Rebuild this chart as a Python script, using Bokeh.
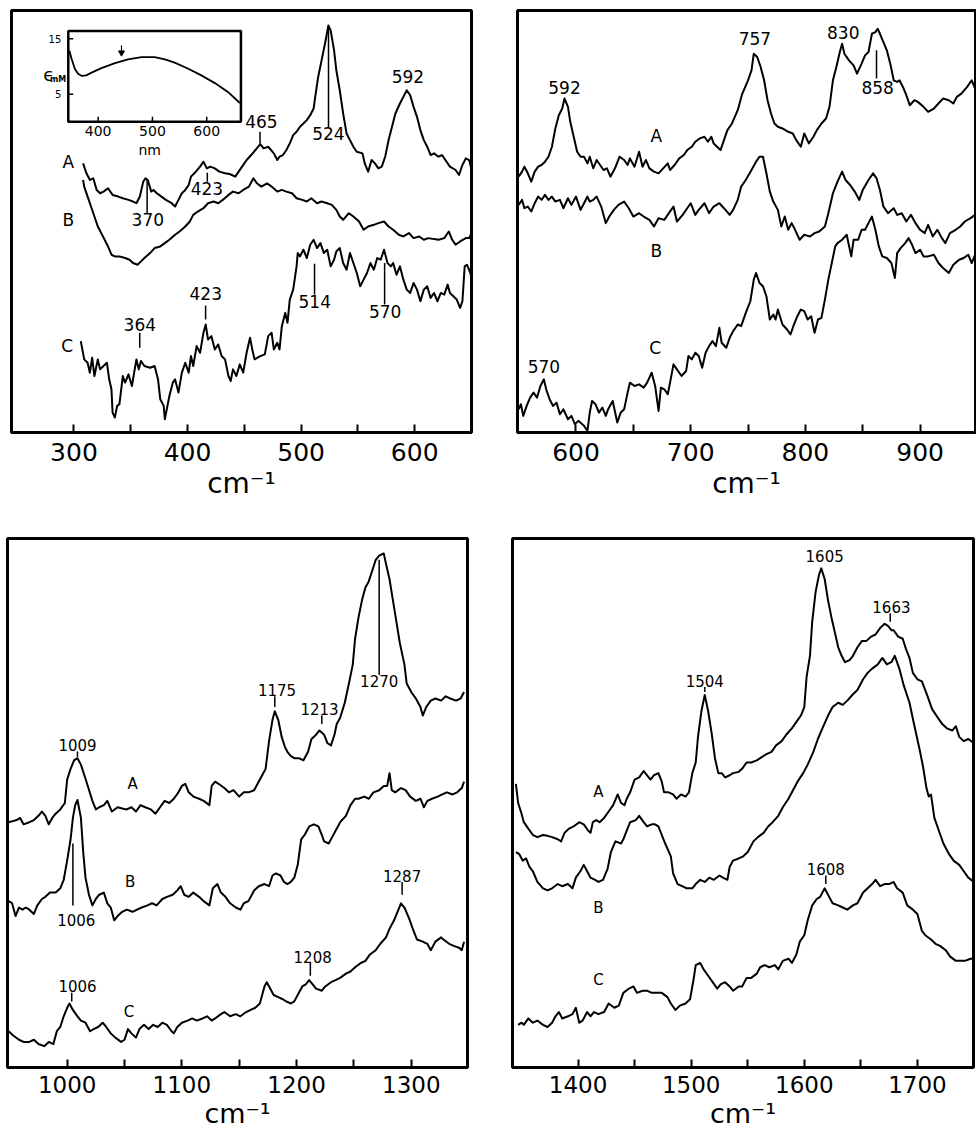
from bokeh.plotting import figure
from bokeh.layouts import column, row
from bokeh.models import Range1d, FixedTicker
from bokeh.core.properties import value
from bokeh.embed import file_html
from bokeh.resources import INLINE

FONT = "DejaVu Sans"

# ---------------- Panel 1: 300-650 cm-1 (intensity in arbitrary units) ----------------
tl_a = [(308,810),(311,780),(314,760),(317,765),(320,730),(323,720),(326,725),(330,735),(334,715),(339,710),
        (343,705),(348,700),(352,695),(355,690),(358,710),(361,755),(363,765),(365,760),(368,725),(370,730),
        (373,720),(377,710),(381,700),(386,690),(389,680),(392,700),(395,720),(398,730),(401,745),(403,770),
        (406,780),(411,800),(414,815),(417,795),(420,800),(424,795),(428,785),(433,780),(437,778),(442,770),
        (445,785),(448,800),(452,820),(456,835),(461,855),(464,868),(467,855),(471,860),(476,840),(479,820),
        (481,830),(484,835),(487,850),(490,870),(493,895),(496,905),(499,920),(502,930),(505,940),(508,955),
        (511,975),(512,1000),(515,1070),(518,1120),(521,1170),(524,1225),(526,1210),(529,1150),(531,1090),(534,1030),
        (537,960),(540,900),(543,880),(546,860),(549,845),(554,840),(556,810),(559,785),(562,820),(565,810),
        (568,795),(571,800),(574,830),(577,880),(580,920),(583,960),(587,990),(590,1010),(593,1030),(596,1015),
        (599,980),(602,950),(605,910),(608,880),(611,860),(614,835),(617,840),(621,830),(624,835),(627,820),
        (631,800),(636,790),(639,775),(642,805),(645,825),(648,820),(650,790)]
tl_b = [(308,760),(309,740),(312,710),(315,680),(318,650),(321,620),(324,600),(327,580),(330,560),(333,535),
        (336,530),(340,530),(345,525),(349,520),(352,510),(356,505),(359,515),(362,525),(367,540),(371,555),
        (376,560),(380,570),(384,580),(389,595),(393,605),(398,620),(402,635),(405,655),(409,665),(414,675),
        (418,690),(423,695),(427,690),(431,700),(436,715),(440,725),(445,720),(449,730),(454,740),(458,765),
        (461,750),(465,740),(470,750),(474,740),(479,725),(483,730),(487,725),(492,720),(496,705),(501,700),
        (505,695),(509,705),(514,690),(518,695),(523,690),(527,685),(531,670),(534,650),(537,640),(542,660),
        (546,650),(551,635),(555,610),(559,620),(564,625),(568,630),(573,635),(577,620),(581,610),(586,595),
        (590,590),(595,600),(599,585),(604,590),(608,580),(612,585),(617,582),(621,580),(626,585),(630,605),
        (633,580),(636,565),(640,575),(645,585),(648,585),(650,600)]
tl_c = [(306,275),(309,220),(312,210),(314,180),(316,225),(318,170),(321,220),(323,190),(326,200),(329,210),
        (331,160),(333,130),(334,60),(336,45),(338,80),(340,85),(343,170),(345,150),(348,175),(351,140),
        (353,180),(355,220),(357,190),(359,215),(362,200),(367,195),(371,200),(374,160),(376,100),(379,80),
        (380,40),(382,75),(384,110),(387,150),(389,160),(392,120),(395,180),(398,210),(401,180),(403,230),
        (405,200),(408,260),(411,240),(414,300),(416,325),(418,280),(421,290),(424,250),(427,265),(430,230),
        (433,220),(436,170),(438,155),(440,190),(443,170),(446,205),(449,180),(452,240),(455,285),(457,250),
        (459,220),(464,230),(468,235),(471,290),(474,300),(476,250),(479,270),(481,250),(483,320),(486,360),
        (488,330),(490,400),(493,430),(496,500),(497,540),(499,530),(502,550),(505,525),(508,565),(511,580),
        (514,555),(517,570),(520,540),(523,550),(526,500),(529,520),(531,545),(534,555),(537,510),(540,490),
        (543,540),(546,510),(549,480),(552,440),(555,460),(558,480),(561,510),(564,490),(567,525),(570,520),
        (573,550),(576,510),(579,500),(581,510),(584,475),(587,500),(590,460),(593,430),(596,420),(599,450),
        (602,430),(605,395),(608,430),(611,440),(614,405),(617,420),(620,395),(623,420),(626,415),(629,445),
        (631,420),(634,410),(637,400),(640,375),(642,395),(644,500),(646,505),(649,480),(650,465)]
tl_ticks_major = [300, 400, 500, 600]
tl_ticks_minor = [350, 450, 550]
tl_labels = [("A", 295, 815), ("B", 295, 640), ("C", 294, 260), ("370", 365, 640), ("423", 417, 735),
             ("465", 465, 935), ("524", 524, 900), ("592", 594, 1070), ("364", 358, 325),
             ("423", 416, 418), ("514", 512, 395), ("570", 574, 365)]
tl_marks = [(364.4, 658, 760), (417.4, 755, 782), (463.8, 870, 905), (524.1, 918, 1215),
            (357.9, 255, 300), (415.9, 340, 382), (511.8, 415, 508), (573.5, 385, 510)]

# inset: absorption spectrum (nm, epsilon mM)
inset_curve = [(347,12.9),(351,11.4),(357,9.6),(363,8.7),(370,8.3),(378,8.4),(388,8.9),(406,9.7),(431,10.6),
               (455,11.3),(480,11.7),(504,11.7),(523,11.3),(541,10.7),(566,9.6),(590,8.4),(615,7.0),(639,5.4),(661,3.4)]
inset_xticks = [400, 500, 600]
inset_yticks = [15, 5]
inset_arrow_nm = 443

# ---------------- Panel 2: 600-900 cm-1 ----------------
tr_a = [(550,770),(553,785),(555,800),(558,780),(561,755),(564,785),(567,800),(570,805),(573,815),(576,830),
        (579,860),(582,915),(585,955),(588,975),(590,1005),(593,980),(595,935),(598,890),(601,845),(604,830),
        (607,830),(610,810),(612,830),(615,795),(618,820),(621,805),(624,790),(627,795),(630,770),(634,795),
        (638,830),(642,820),(645,805),(647,825),(651,800),(655,845),(658,800),(661,820),(664,795),(668,785),
        (672,780),(676,795),(680,810),(682,790),(686,805),(690,825),(694,835),(697,850),(701,860),(704,875),
        (708,885),(712,890),(715,875),(718,890),(720,870),(723,860),(726,850),(729,880),(732,910),(736,930),
        (741,970),(745,1020),(750,1060),(753,1090),(755,1140),(758,1130),(761,1100),(764,1060),(767,1000),(770,960),
        (773,930),(776,920),(780,915),(785,905),(789,900),(792,880),(796,860),(799,900),(803,870),(807,890),
        (810,910),(814,930),(818,945),(821,980),(824,1060),(827,1100),(830,1145),(832,1170),(834,1140),(838,1120),
        (842,1105),(845,1080),(849,1110),(852,1135),(855,1145),(858,1200),(861,1205),(863,1215),(865,1200),(868,1175),
        (871,1150),(874,1110),(877,1060),(880,1055),(882,1060),(885,1040),(888,1015),(891,985),(895,1000),(898,995),
        (903,980),(907,965),(912,975),(916,990),(920,1005),(925,1000),(929,990),(932,1010),(936,1020),(941,1040),
        (945,1060),(948,1035),(950,1000)]
tr_b = [(550,685),(553,700),(555,675),(558,680),(561,665),(564,690),(567,710),(570,700),(573,715),(576,700),
        (579,710),(582,695),(586,700),(589,675),(593,705),(596,685),(600,710),(604,670),(607,690),(610,710),
        (612,695),(615,700),(618,710),(622,680),(626,630),(629,650),(633,670),(637,685),(642,695),(646,675),
        (650,650),(655,660),(659,650),(664,640),(668,620),(672,645),(677,640),(681,660),(685,680),(688,635),
        (693,655),(697,675),(700,690),(704,655),(707,670),(712,690),(716,660),(720,680),(725,690),(729,675),
        (734,655),(737,670),(741,700),(744,740),(748,760),(753,790),(757,815),(760,830),(763,830),(766,780),
        (769,725),(772,695),(776,670),(779,620),(782,650),(785,610),(788,630),(791,610),(795,580),(799,595),
        (804,590),(808,600),(812,605),(817,620),(820,660),(824,720),(828,755),(832,785),(835,760),(839,745),
        (843,725),(847,700),(850,730),(855,760),(859,780),(862,765),(865,730),(868,680),(872,660),(877,675),
        (880,655),(884,660),(888,635),(892,655),(896,630),(900,610),(904,600),(907,625),(911,590),(915,610),
        (919,585),(922,570),(926,600),(931,610),(935,620),(939,635),(944,645),(948,655),(950,635)]
tr_c = [(550,70),(552,85),(554,50),(557,80),(560,105),(563,120),(566,105),(569,140),(572,160),(574,130),
        (577,100),(580,80),(583,90),(586,55),(589,70),(593,40),(596,50),(599,25),(602,35),(607,20),
        (610,5),(612,60),(614,95),(617,85),(620,60),(623,75),(626,50),(628,70),(632,95),(636,30),
        (639,60),(642,70),(645,120),(647,150),(651,140),(655,145),(659,135),(662,150),(666,180),(669,140),
        (672,65),(674,135),(677,130),(680,115),(682,150),(685,205),(688,190),(692,170),(696,185),(698,230),
        (701,220),(704,240),(707,230),(710,195),(713,240),(716,260),(719,275),(722,260),(725,315),(727,270),
        (731,255),(734,285),(737,305),(741,325),(744,320),(748,360),(752,395),(755,460),(757,480),(760,450),
        (763,440),(766,410),(769,340),(772,355),(774,340),(776,370),(780,325),(784,310),(787,295),(790,325),
        (793,350),(796,370),(799,365),(802,340),(805,350),(808,300),(811,340),(814,345),(817,400),(820,460),
        (823,510),(826,560),(828,570),(832,580),(836,595),(840,530),(842,580),(846,580),(849,610),(852,610),
        (855,630),(858,650),(861,610),(864,560),(867,530),(871,525),(875,510),(878,465),(880,540),(883,555),
        (887,570),(890,585),(893,565),(896,540),(900,550),(903,530),(907,530),(912,535),(916,510),(920,495),
        (925,480),(929,505),(934,520),(938,525),(942,535),(945,510),(948,535),(950,530)]
tr_ticks_major = [600, 700, 800, 900]
tr_ticks_minor = [650, 750, 850]
tr_labels = [("592", 590, 1038), ("757", 756, 1185), ("830", 833, 1205), ("858", 863, 1038),
             ("A", 670, 892), ("B", 670, 545), ("C", 669, 255), ("570", 572, 200)]
tr_marks = [(862, 1065, 1150)]

# ---------------- Panel 3: 1000-1300 cm-1 ----------------
bl_a = [(949,575),(952,577),(956,580),(959,585),(962,570),(967,575),(971,580),(975,590),(978,600),(981,590),
        (984,570),(987,585),(990,595),(994,605),(998,620),(1000,675),(1003,700),(1006,720),(1009,725),(1012,710),
        (1015,685),(1018,660),(1022,625),(1025,605),(1028,610),(1032,615),(1035,625),(1039,600),(1044,610),(1048,607),
        (1052,605),(1056,610),(1060,600),(1064,615),(1068,610),(1073,605),(1077,595),(1081,610),(1085,625),(1089,620),
        (1093,630),(1097,645),(1100,660),(1103,665),(1106,645),(1110,635),(1115,630),(1119,625),(1124,615),(1126,660),
        (1129,670),(1132,665),(1137,655),(1141,645),(1145,650),(1150,635),(1154,645),(1158,645),(1163,650),(1166,665),
        (1170,685),(1173,700),(1176,765),(1179,815),(1181,835),(1184,815),(1187,775),(1190,750),(1192,740),(1195,730),
        (1198,725),(1202,725),(1206,720),(1210,740),(1213,770),(1217,780),(1220,790),(1224,780),(1227,760),(1230,755),
        (1233,780),(1235,805),(1238,820),(1242,855),(1246,905),(1249,945),(1251,1005),(1254,1055),(1257,1095),(1260,1125),
        (1263,1140),(1266,1165),(1269,1190),(1272,1200),(1276,1205),(1278,1180),(1281,1145),(1284,1095),(1287,1045),(1290,995),
        (1294,945),(1296,900),(1300,880),(1304,865),(1308,845),(1310,825),(1313,845),(1317,860),(1321,865),(1326,860),
        (1330,870),(1334,865),(1339,860),(1343,865),(1346,880)]
bl_b = [(949,390),(952,385),(955,355),(958,375),(961,370),(964,375),(967,370),(971,360),(974,380),(978,395),
        (981,400),(985,410),(990,410),(994,420),(997,440),(1000,485),(1003,535),(1005,585),(1007,615),(1009,627),
        (1012,585),(1014,505),(1016,445),(1019,405),(1022,380),(1025,395),(1028,405),(1032,410),(1035,385),(1038,375),
        (1041,345),(1044,355),(1048,365),(1052,370),(1057,365),(1061,370),(1065,375),(1070,380),(1074,385),(1078,380),
        (1083,395),(1087,400),(1092,405),(1096,415),(1099,425),(1102,405),(1106,400),(1110,410),(1115,400),(1119,390),
        (1124,380),(1127,420),(1131,430),(1134,410),(1138,400),(1142,385),(1147,375),(1151,370),(1154,385),(1158,390),
        (1163,415),(1167,425),(1172,430),(1176,425),(1179,450),(1182,455),(1186,450),(1189,435),(1192,430),(1195,435),
        (1198,445),(1201,475),(1204,535),(1207,545),(1211,565),(1215,570),(1219,565),(1222,545),(1224,530),(1228,525),
        (1231,540),(1234,555),(1238,575),(1243,590),(1247,615),(1251,630),(1254,630),(1259,635),(1263,630),(1267,645),
        (1272,650),(1276,660),(1279,660),(1281,690),(1283,650),(1286,645),(1291,655),(1295,650),(1299,635),(1304,625),
        (1308,630),(1311,610),(1314,625),(1318,630),(1323,635),(1327,640),(1331,645),(1336,640),(1340,645),(1344,655),
        (1346,670)]
bl_c = [(949,85),(953,75),(958,65),(962,60),(967,60),(971,65),(975,55),(980,50),(984,60),(988,55),
        (991,85),(994,95),(997,120),(1000,140),(1002,150),(1005,135),(1009,120),(1012,110),(1016,105),(1020,85),
        (1023,90),(1027,95),(1031,105),(1034,95),(1038,80),(1042,70),(1047,60),(1050,65),(1053,90),(1056,80),
        (1060,70),(1063,90),(1067,100),(1071,90),(1075,100),(1079,95),(1083,105),(1087,100),(1091,85),(1093,80),
        (1096,95),(1100,105),(1105,110),(1109,115),(1113,110),(1118,115),(1122,120),(1126,110),(1129,115),(1134,125),
        (1137,130),(1142,120),(1147,125),(1151,120),(1156,130),(1160,135),(1164,140),(1168,150),(1172,190),(1174,200),
        (1177,185),(1180,170),(1184,165),(1188,160),(1191,155),(1195,150),(1198,155),(1202,175),(1205,190),(1208,195),
        (1211,205),(1214,195),(1217,185),(1222,180),(1225,190),(1230,200),(1234,205),(1238,210),(1243,220),(1247,225),
        (1251,235),(1256,245),(1260,250),(1264,265),(1269,275),(1273,290),(1278,305),(1281,325),(1285,345),(1288,365),
        (1291,385),(1294,375),(1298,350),(1302,320),(1305,300),(1310,295),(1314,290),(1317,275),(1321,295),(1326,305),
        (1328,300),(1333,290),(1337,285),(1342,280),(1344,275),(1346,295)]
bl_ticks_major = [1000, 1100, 1200, 1300]
bl_ticks_minor = [1050, 1150, 1250]
bl_labels = [("1009", 1009, 755), ("1175", 1183, 885), ("1213", 1220, 840), ("1270", 1272, 905),
             ("A", 1057, 665), ("B", 1055, 435), ("C", 1054, 130), ("1006", 1008, 345),
             ("1287", 1292, 450), ("1208", 1214, 260), ("1006", 1009, 190)]
bl_marks = [(1009, 728, 741), (1181, 845, 870), (1222, 805, 825), (1272, 920, 1190),
            (1005, 380, 525), (1292, 405, 435), (1212, 215, 245), (1004, 155, 175)]

# ---------------- Panel 4: 1400-1700 cm-1 ----------------
br_a = [(1345,665),(1347,620),(1350,595),(1352,575),(1356,560),(1360,545),(1364,540),(1369,545),(1373,543),(1377,540),
        (1382,535),(1385,530),(1388,550),(1392,560),(1396,565),(1401,575),(1405,570),(1409,555),(1411,550),(1413,575),
        (1416,580),(1419,575),(1423,585),(1427,600),(1431,615),(1435,640),(1438,620),(1441,615),(1443,630),(1446,645),
        (1450,675),(1454,680),(1458,695),(1461,685),(1464,675),(1467,685),(1471,690),(1474,670),(1476,645),(1480,645),
        (1484,640),(1487,630),(1491,640),(1495,635),(1498,645),(1501,690),(1504,715),(1506,775),(1509,835),(1512,873),
        (1515,835),(1518,785),(1521,725),(1524,690),(1527,690),(1530,680),(1534,685),(1537,690),(1542,693),(1545,700),
        (1549,715),(1553,715),(1558,720),(1562,727),(1567,735),(1571,740),(1575,755),(1580,765),(1584,780),(1589,795),
        (1593,810),(1597,825),(1600,845),(1602,915),(1605,965),(1607,1045),(1610,1115),(1613,1155),(1615,1170),(1618,1145),
        (1621,1095),(1624,1055),(1627,1020),(1630,985),(1633,965),(1636,950),(1640,955),(1643,965),(1647,985),(1651,1000),
        (1655,1000),(1659,1010),(1663,1015),(1667,1030),(1671,1040),(1674,1035),(1677,1025),(1679,1025),(1683,1010),(1687,1005),
        (1690,980),(1693,960),(1696,925),(1700,910),(1704,905),(1709,870),(1713,840),(1718,820),(1722,805),(1726,795),
        (1731,790),(1734,800),(1737,775),(1741,765),(1745,770),(1750,760)]
br_b = [(1345,505),(1348,500),(1351,485),(1354,490),(1357,470),(1360,460),(1364,435),(1369,420),(1373,415),(1377,420),
        (1382,430),(1386,425),(1391,430),(1395,420),(1398,445),(1402,460),(1405,475),(1408,460),(1411,445),(1415,440),
        (1418,435),(1422,440),(1426,465),(1429,505),(1433,530),(1438,525),(1440,535),(1443,555),(1446,575),(1451,580),
        (1454,590),(1458,575),(1461,565),(1465,570),(1468,570),(1471,565),(1474,545),(1477,525),(1482,495),(1484,455),
        (1488,430),(1492,425),(1496,420),(1501,420),(1504,430),(1508,440),(1512,435),(1516,445),(1520,440),(1525,450),
        (1528,445),(1532,440),(1534,470),(1537,485),(1542,490),(1546,495),(1550,505),(1555,530),(1559,540),(1564,550),
        (1568,565),(1572,575),(1577,590),(1581,610),(1586,630),(1590,650),(1594,670),(1599,690),(1603,710),(1608,740),
        (1612,770),(1616,795),(1621,825),(1625,845),(1630,855),(1634,850),(1638,860),(1643,875),(1647,885),(1652,910),
        (1656,925),(1660,935),(1665,945),(1669,960),(1673,945),(1677,950),(1680,965),(1684,935),(1688,895),(1693,855),
        (1697,805),(1702,745),(1705,705),(1708,655),(1710,635),(1712,640),(1715,585),(1719,555),(1723,525),(1728,500),
        (1732,485),(1737,475),(1741,460),(1745,445),(1750,435)]
br_c = [(1347,100),(1350,105),(1352,100),(1356,115),(1360,105),(1364,110),(1369,100),(1373,95),(1377,105),(1380,120),
        (1383,130),(1386,115),(1391,120),(1395,125),(1398,140),(1401,105),(1404,110),(1408,130),(1411,120),(1414,130),
        (1418,125),(1423,130),(1427,150),(1432,140),(1436,145),(1440,175),(1445,185),(1449,190),(1452,175),(1457,180),
        (1461,180),(1465,175),(1470,175),(1474,175),(1479,165),(1482,150),(1486,135),(1490,145),(1495,150),(1499,160),
        (1502,205),(1504,240),(1508,245),(1511,230),(1515,215),(1519,200),(1523,185),(1526,195),(1530,200),(1534,190),
        (1537,180),(1542,190),(1545,190),(1549,210),(1553,210),(1558,220),(1561,235),(1565,240),(1569,235),(1574,240),
        (1577,230),(1581,250),(1586,255),(1589,245),(1593,265),(1596,295),(1600,310),(1603,345),(1607,380),(1611,395),
        (1614,400),(1618,420),(1622,400),(1625,385),(1630,380),(1634,375),(1638,370),(1643,380),(1647,385),(1652,410),
        (1656,420),(1660,430),(1663,440),(1667,425),(1671,430),(1675,430),(1679,435),(1682,420),(1687,410),(1691,380),
        (1696,370),(1700,360),(1704,320),(1707,310),(1712,300),(1716,290),(1720,285),(1725,275),(1729,260),(1734,250),
        (1738,250),(1742,250),(1747,255),(1750,255)]
br_ticks_major = [1400, 1500, 1600, 1700]
br_ticks_minor = [1450, 1550, 1650]
br_labels = [("1605", 1618, 1200), ("1663", 1677, 1080), ("1504", 1512, 905), ("1608", 1619, 465),
             ("A", 1418, 645), ("B", 1418, 375), ("C", 1418, 205)]
br_marks = [(1676, 1045, 1065), (1512, 880, 892), (1619, 430, 450)]

AXIS_TITLE = "cm⁻¹"


def make_panel(xr, ytop, width, height, bl, br, bt, bb, major, minor, tick_fs, title_fs,
               tick_standoff, title_standoff):
    p = figure(width=width, height=height, x_range=Range1d(*xr), y_range=Range1d(0, ytop),
               output_backend="svg", toolbar_location=None, y_axis_location=None,
               min_border_left=bl, min_border_right=br, min_border_top=bt, min_border_bottom=bb)
    p.grid.visible = False
    p.outline_line_color = "black"
    p.outline_line_width = 3
    p.background_fill_color = "white"
    p.border_fill_color = "white"
    ax = p.xaxis[0]
    ax.ticker = FixedTicker(ticks=major, minor_ticks=minor)
    ax.axis_line_color = None
    ax.major_tick_in = 8
    ax.major_tick_out = 0
    ax.minor_tick_in = 8
    ax.minor_tick_out = 0
    ax.major_tick_line_width = 2
    ax.minor_tick_line_width = 2
    ax.major_tick_line_color = "black"
    ax.minor_tick_line_color = "black"
    ax.major_label_text_font = FONT
    ax.major_label_text_font_size = f"{tick_fs}px"
    ax.major_label_text_color = "black"
    ax.major_label_standoff = tick_standoff
    ax.axis_label = AXIS_TITLE
    ax.axis_label_text_font = FONT
    ax.axis_label_text_font_style = "normal"
    ax.axis_label_text_font_size = f"{title_fs}px"
    ax.axis_label_text_color = "black"
    ax.axis_label_standoff = title_standoff
    return p


def draw(p, traces, labels, marks, fs):
    for tr in traces:
        xs, ys = zip(*tr)
        p.line(list(xs), list(ys), line_color="black", line_width=2, line_join="round")
    t, lx, ly = zip(*labels)
    p.text(x=list(lx), y=list(ly), text=list(t), text_font=value(FONT), text_font_size=f"{fs}px",
           text_align="center", text_baseline="middle", text_color="black")
    mx, m0, m1 = zip(*marks)
    p.segment(x0=list(mx), y0=list(m0), x1=list(mx), y1=list(m1), line_color="black", line_width=1.5)


TOP_Y = 1270
BOT_Y = 1240

tl = make_panel((245, 650), TOP_Y, 498, 530, 11, 27, 10, 98, tl_ticks_major, tl_ticks_minor, 25, 28, 10, 3)
draw(tl, [tl_a, tl_b, tl_c], tl_labels, tl_marks, 17)

# inset drawn through a sub-coordinate mapping
ins = tl.subplot(x_source=Range1d(345, 663), y_source=Range1d(0, 16.4),
                 x_target=Range1d(295, 447), y_target=Range1d(935, 1208))
ins.quad(left=[345], right=[663], bottom=[0], top=[16.4], fill_color="white", line_color="black", line_width=2.5)
ix, iy = zip(*inset_curve)
ins.line(list(ix), list(iy), line_color="black", line_width=1.8)
ins.segment(x0=inset_xticks, y0=[0] * 3, x1=inset_xticks, y1=[0.9] * 3, line_color="black", line_width=1.5)
ins.segment(x0=[345] * 2, y0=inset_yticks, x1=[354] * 2, y1=inset_yticks, line_color="black", line_width=1.5)
ins.text(x=inset_xticks, y=[0] * 3, text=[str(v) for v in inset_xticks], text_font=value(FONT),
         text_font_size="14px", text_align="center", text_baseline="top", y_offset=4, text_color="black")
ins.text(x=[495], y=[0], text=["nm"], text_font=value(FONT), text_font_size="14px",
         text_align="center", text_baseline="middle", y_offset=28, text_color="black")
ins.text(x=[345] * 2, y=inset_yticks, text=[str(v) for v in inset_yticks], text_font=value(FONT),
         text_font_size="10px", text_align="right", text_baseline="middle", x_offset=-7, text_color="black")
ins.text(x=[345], y=[8.6], text=["ϵ"], text_font=value(FONT), text_font_size="18px",
         text_align="right", text_baseline="middle", x_offset=-14, text_color="black")
ins.text(x=[345], y=[7.6], text=["mM"], text_font=value(FONT), text_font_size="8px", text_font_style="bold",
         text_align="right", text_baseline="middle", x_offset=-2, text_color="black")
ins.segment(x0=[inset_arrow_nm], y0=[13.8], x1=[inset_arrow_nm], y1=[12.4], line_color="black", line_width=1.2)
ins.scatter(x=[inset_arrow_nm], y=[12.5], marker="inverted_triangle", size=6, fill_color="black", line_color="black")

tr = make_panel((549, 948.3), TOP_Y, 478, 530, 19, 1, 10, 98, tr_ticks_major, tr_ticks_minor, 25, 28, 10, 3)
draw(tr, [tr_a, tr_b, tr_c], tr_labels, tr_marks, 17)

bl = make_panel((948, 1349), BOT_Y, 498, 606, 7, 31, 8, 69, bl_ticks_major, bl_ticks_minor, 23, 27, 8, 2)
draw(bl, [bl_a, bl_b, bl_c], bl_labels, bl_marks, 15)

br = make_panel((1342, 1749.6), BOT_Y, 478, 606, 14, 3, 8, 69, br_ticks_major, br_ticks_minor, 23, 27, 8, 2)
draw(br, [br_a, br_b, br_c], br_labels, br_marks, 15)

layout = column(row(tl, tr), row(bl, br))
open("out.html", "w").write(file_html(layout, INLINE))
